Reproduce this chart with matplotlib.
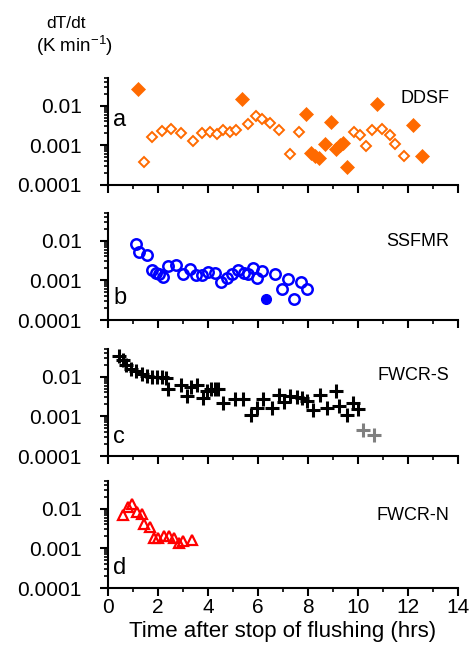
import matplotlib
matplotlib.use("Agg")
import matplotlib.pyplot as plt
from matplotlib.ticker import LogLocator, FixedLocator, NullFormatter, MultipleLocator
import numpy as np

plt.rcParams['font.family'] = ['Liberation Sans', 'DejaVu Sans']

# ---- Data ----
# Panel a: DDSF
ddsf_open_x = [1.45, 1.77, 2.15, 2.52, 2.92, 3.41, 3.75, 4.08, 4.37, 4.61, 4.88, 5.11,
               5.61, 5.91, 6.17, 6.48, 6.84, 7.27, 7.65, 9.84, 10.08, 10.32, 10.55,
               10.97, 11.28, 11.49, 11.85]
ddsf_open_y = [0.00039, 0.0016, 0.00224, 0.0026, 0.0020, 0.00132, 0.00204, 0.00215,
               0.00195, 0.00237, 0.00215, 0.0025, 0.0035, 0.0054, 0.0046, 0.0036,
               0.00237, 0.0006, 0.0022, 0.0022, 0.00178, 0.00099, 0.00237, 0.00266,
               0.00181, 0.00107, 0.00055]
ddsf_fill_x = [1.21, 5.35, 7.91, 8.12, 8.28, 8.44, 8.69, 8.91, 9.11, 9.28, 9.39, 9.57,
               10.75, 12.21, 12.55]
ddsf_fill_y = [0.027, 0.015, 0.0062, 0.00063, 0.00054, 0.00047, 0.0011, 0.0039,
               0.00081, 0.00103, 0.00118, 0.00029, 0.011, 0.0033, 0.00054]

# Panel b: SSFMR
ssfmr_open_x = [1.12, 1.25, 1.55, 1.75, 1.92, 2.05, 2.19, 2.41, 2.72, 3.01, 3.28, 3.52,
                3.77, 4.01, 4.28, 4.51, 4.75, 4.95, 5.21, 5.44, 5.61, 5.79, 5.97, 6.17,
                6.68, 6.95, 7.21, 7.44, 7.71, 7.95]
ssfmr_open_y = [0.0081, 0.0053, 0.0044, 0.00178, 0.00152, 0.00141, 0.0012, 0.00234,
                0.0025, 0.00141, 0.00188, 0.00133, 0.00135, 0.00165, 0.00152, 0.00093,
                0.00117, 0.00141, 0.00185, 0.00152, 0.00141, 0.00203, 0.00117, 0.0017,
                0.00147, 0.00062, 0.0011, 0.00033, 0.00089, 0.00059]
ssfmr_fill_x = [6.31]
ssfmr_fill_y = [0.00033]

# Panel c: FWCR-S
fwcrs_x = [0.45, 0.59, 0.72, 0.91, 1.12, 1.35, 1.55, 1.75, 1.95, 2.15, 2.31, 2.41,
           2.92, 3.17, 3.3, 3.55, 3.81, 3.97, 4.11, 4.28, 4.41, 4.61, 5.08, 5.41,
           5.71, 5.95, 6.21, 6.55, 6.84, 7.04, 7.28, 7.55, 7.77, 7.95, 8.21, 8.48,
           8.75, 9.11, 9.24, 9.55, 9.81, 10.01]
fwcrs_y = [0.033, 0.026, 0.020, 0.0155, 0.0138, 0.012, 0.0105, 0.010, 0.010, 0.010,
           0.0091, 0.0049, 0.0062, 0.0033, 0.0055, 0.0063, 0.0029, 0.0043, 0.0050,
           0.0050, 0.0050, 0.0022, 0.0028, 0.0028, 0.00107, 0.00165, 0.0028, 0.00165,
           0.0035, 0.0023, 0.0032, 0.0030, 0.0029, 0.0024, 0.00145, 0.0035, 0.00165,
           0.0044, 0.0018, 0.0011, 0.0022, 0.00156]
fwcrs_gray_x = [10.21, 10.64]
fwcrs_gray_y = [0.00044, 0.00033]

# Panel d: FWCR-N
fwcrn_x = [0.59, 0.79, 0.97, 1.15, 1.35, 1.45, 1.68, 1.84, 2.01, 2.25, 2.45, 2.64,
           2.84, 3.01, 3.35]
fwcrn_y = [0.0068, 0.011, 0.0129, 0.0083, 0.0074, 0.0041, 0.0035, 0.00178, 0.00187,
           0.0021, 0.0020, 0.00178, 0.00134, 0.00155, 0.0016]

panel_letters = ['a', 'b', 'c', 'd']
series_names = ['DDSF', 'SSFMR', 'FWCR-S', 'FWCR-N']
x_ticks = [0, 2, 4, 6, 8, 10, 12, 14]
y_ticks = [0.0001, 0.001, 0.01]
y_ticklabels = ['0.0001', '0.001', '0.01']

ORANGE = '#ff6a00'
BLUE = '#0000ff'
RED = '#ff0000'

fig = plt.figure(figsize=(4.74, 6.61), dpi=100)
left = 108 / 474
width = 350 / 474
bottoms_px = [185, 320, 456, 588]
height = 107 / 661

axes = []
for i, bpx in enumerate(bottoms_px):
    ax = fig.add_axes([left, 1 - bpx / 661, width, height])
    axes.append(ax)
    ax.set_yscale('log')
    ax.set_ylim(1e-4, 5e-2)
    ax.set_xlim(0, 14)
    for s in ['top', 'right']:
        ax.spines[s].set_visible(False)
    for s in ['left', 'bottom']:
        ax.spines[s].set_linewidth(1.5)
    ax.xaxis.set_major_locator(FixedLocator(x_ticks))
    ax.xaxis.set_minor_locator(MultipleLocator(1))
    ax.yaxis.set_major_locator(FixedLocator(y_ticks))
    ax.set_yticklabels(y_ticklabels)
    ax.yaxis.set_minor_locator(LogLocator(base=10, subs=np.arange(2, 10)))
    ax.yaxis.set_minor_formatter(NullFormatter())
    ax.tick_params(axis='both', which='major', direction='out', length=6, width=1.5,
                   labelsize=15, color='black')
    ax.tick_params(axis='both', which='minor', direction='out', length=3.2, width=1.2)
    ax.tick_params(axis='y', which='major', pad=13)
    ax.tick_params(axis='x', which='major', pad=1)
    if i < 3:
        ax.tick_params(axis='x', labelbottom=False)
    else:
        ax.set_xticklabels([str(t) for t in x_ticks])
    ax.text(0.015, [0.61, 0.21, 0.18, 0.19][i], panel_letters[i], transform=ax.transAxes,
            fontsize=17, ha='left', va='center')
    ax.text(0.975, [0.81, 0.73, 0.75, 0.68][i], series_names[i], transform=ax.transAxes,
            fontsize=13, ha='right', va='center')

ax = axes[0]
ax.plot(ddsf_open_x, ddsf_open_y, linestyle='none', marker='D', markersize=5,
        markerfacecolor='white', markeredgecolor=ORANGE, markeredgewidth=1.4)
ax.plot(ddsf_fill_x, ddsf_fill_y, linestyle='none', marker='D', markersize=7,
        markerfacecolor=ORANGE, markeredgecolor=ORANGE, markeredgewidth=0.5)

ax = axes[1]
ax.plot(ssfmr_open_x, ssfmr_open_y, linestyle='none', marker='o', markersize=7.5,
        markerfacecolor='none', markeredgecolor=BLUE, markeredgewidth=1.8)
ax.plot(ssfmr_fill_x, ssfmr_fill_y, linestyle='none', marker='o', markersize=7,
        markerfacecolor=BLUE, markeredgecolor=BLUE)

ax = axes[2]
ax.plot(fwcrs_x, fwcrs_y, linestyle='none', marker='+', markersize=10,
        markeredgecolor='black', markeredgewidth=2.2)
ax.plot(fwcrs_gray_x, fwcrs_gray_y, linestyle='none', marker='+', markersize=10,
        markeredgecolor='#808080', markeredgewidth=2.2)

ax = axes[3]
ax.plot(fwcrn_x, fwcrn_y, linestyle='none', marker='^', markersize=7,
        markerfacecolor='none', markeredgecolor=RED, markeredgewidth=1.6)
ax.set_xlabel('Time after stop of flushing (hrs)', fontsize=16, labelpad=3)

fig.text(66 / 474, 1 - 23 / 661, 'dT/dt', fontsize=12.5, ha='center', va='center')
fig.text(74 / 474, 1 - 46 / 661, r'(K min$^{\mathregular{-1}}$)', fontsize=13.5,
         ha='center', va='center')

fig.savefig('out.png', dpi=100)
